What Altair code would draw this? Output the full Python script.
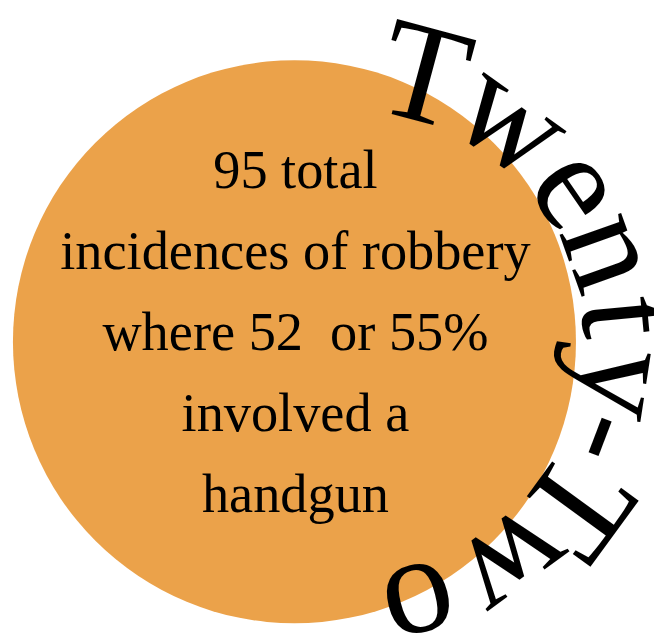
import altair as alt
import pandas as pd

# centre text lines
lines = ["95 total", "incidences of robbery", "where 52\u00a0 or 55%", "involved a", "handgun"]
line_no = [0, 1, 2, 3, 4]

# curved title: letters and their angular positions (degrees clockwise from north)
arc_letters = ["T", "w", "e", "n", "t", "y", "-", "T", "w", "o"]
arc_angles = [15.0, 35.6, 55.5, 70.4, 84.6, 98.7, 110.8, 126.1, 143.7, 165.7]

circle_share = [1]

W, H = 654, 629
ORANGE = "#EBA24A"

circle_df = pd.DataFrame({"share": circle_share})
letters_df = pd.DataFrame({"letter": arc_letters, "angle": arc_angles})
lines_df = pd.DataFrame({"line": lines, "row": line_no})

circle = alt.Chart(circle_df).mark_arc(
    color=ORANGE, outerRadius=285, innerRadius=0
).encode(
    theta=alt.Theta("share:Q"),
    x=alt.value(290),
    y=alt.value(334),
)

ring = alt.Chart(letters_df).mark_text(
    font="Liberation Serif", fontSize=144, align="center",
    baseline="alphabetic", color="black", radius=234
).encode(
    text="letter:N",
    theta=alt.Theta("angle:Q", stack=False,
                    scale=alt.Scale(domain=[0, 360], range=[0, 6.283185307179586])),
    angle=alt.Angle("angle:Q", scale=alt.Scale(domain=[0, 360], range=[0, 360])),
    x=alt.value(349),
    y=alt.value(335),
)

center = alt.Chart(lines_df).mark_text(
    font="Liberation Serif", fontSize=55, align="center",
    baseline="alphabetic", color="black"
).encode(
    text="line:N",
    x=alt.value(291),
    y=alt.Y("row:Q", scale=alt.Scale(domain=[0, 4], range=[178, 506]), axis=None),
)

chart = alt.layer(circle, ring, center).resolve_scale(
    theta="independent"
).properties(
    width=W, height=H, padding=0,
    autosize=alt.AutoSizeParams(type="none"),
).configure_view(stroke=None)

chart.save("out.html", embed_options={"renderer": "svg", "actions": False})
